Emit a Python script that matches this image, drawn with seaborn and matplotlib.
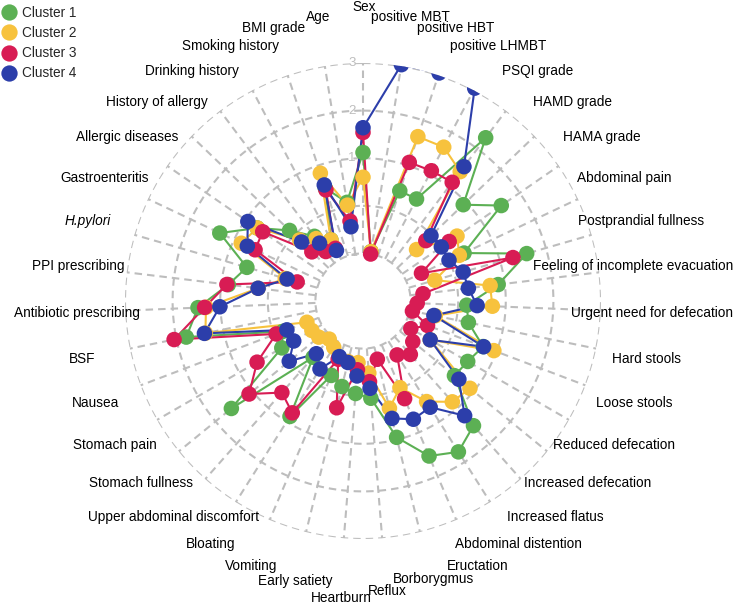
import numpy as np
import pandas as pd
import seaborn as sns
import matplotlib
matplotlib.use("Agg")
import matplotlib.pyplot as plt

# Category labels, clockwise from the top
categories = ['Sex', 'positive MBT', 'positive HBT', 'positive LHMBT', 'PSQI grade',
              'HAMD grade', 'HAMA grade', 'Abdominal pain', 'Postprandial fullness',
              'Feeling of incomplete evacuation', 'Urgent need for defecation',
              'Hard stools', 'Loose stools', 'Reduced defecation', 'Increased defecation',
              'Increased flatus', 'Abdominal distention', 'Eructation', 'Borborygmus',
              'Reflux', 'Heartburn', 'Early satiety', 'Vomiting', 'Bloating',
              'Upper abdominal discomfort', 'Stomach fullness', 'Stomach pain', 'Nausea',
              'BSF', 'Antibiotic prescribing', 'PPI prescribing', 'H.pylori',
              'Gastroenteritis', 'Allergic diseases', 'History of allergy',
              'Drinking history', 'Smoking history', 'BMI grade', 'Age']

cluster1 = [1.12, -0.95, 0.44, 0.42, 2.29, 0.92, 1.53, 0.35, 1.58, 0.86,
            0.18, 0.26, 0.70, 0.54, 0.48, 1.50, 1.75, 1.54, 0.95, 0.05,
            -0.05, -0.15, -0.30, 0.87, -0.42, 1.57, -0.03, -0.20, 1.79, 1.47,
            0.85, 0.54, 1.33, 0.70, 0.14, -0.30, -0.55, 0.50, 0.10]
cluster2 = [0.60, -0.95, 1.64, 1.65, 1.40, -0.44, 0.40, 0.24, -0.43, 0.69,
            0.72, -0.45, 0.94, -0.37, 0.90, 0.83, 0.50, -0.02, 0.32, -0.48,
            -0.70, -0.69, -0.70, -0.85, -0.93, -0.80, -0.76, -0.74, 1.38, 1.30,
            0.22, -0.30, 0.83, 0.70, -0.15, -0.36, -0.55, 0.83, 0.04]
cluster3 = [1.54, -1.00, 1.07, 1.09, 1.12, -0.17, 0.20, -0.64, 1.28, -0.73,
            -0.86, -0.94, -0.55, -0.84, -0.65, -0.50, -0.66, 0.23, -0.74, -0.30,
            -0.55, 0.31, -0.67, 0.78, 0.57, 1.09, 0.57, -0.05, 2.05, 1.33,
            0.88, -0.56, 0.51, 0.56, -0.51, -0.70, -0.75, 0.46, -0.30]
cluster4 = [1.64, 3.03, 3.05, 3.05, 1.53, -0.02, 0.00, 0.00, 0.19, 0.23,
            0.40, -0.48, 0.71, -0.37, 0.60, 1.22, 0.64, 0.70, 0.54, -0.16,
            -0.42, -0.67, -0.73, -0.31, -0.52, 0.00, -0.32, -0.29, 1.40, 1.01,
            0.22, -0.34, 0.69, 0.94, -0.21, -0.48, -0.80, 0.57, -0.42]

cluster_names = ['Cluster 1', 'Cluster 2', 'Cluster 3', 'Cluster 4']
palette = {'Cluster 1': '#5CB054', 'Cluster 2': '#F7C23D',
           'Cluster 3': '#D81C54', 'Cluster 4': '#2C3EAA'}
grid_col = '#BDBDBD'

n = len(categories)
theta = np.arange(n) * 2 * np.pi / n

frames = []
for name, vals in zip(cluster_names, [cluster1, cluster2, cluster3, cluster4]):
    frames.append(pd.DataFrame({'theta': theta, 'value': vals, 'Cluster': name}))
df = pd.concat(frames, ignore_index=True)

# closed polygons for the lines
closed = []
for name, g in df.groupby('Cluster', sort=False):
    first = g.iloc[[0]].copy()
    first['theta'] = 2 * np.pi
    closed.append(pd.concat([g, first]))
df_line = pd.concat(closed, ignore_index=True)

sns.set_style('white')
plt.rcParams['font.family'] = ['Liberation Sans', 'DejaVu Sans']

W, H = 735, 604
fig = plt.figure(figsize=(W / 100, H / 100), dpi=100)
ax = fig.add_axes([125 / W, 65 / H, 476 / W, 476 / H], projection='polar')
ax.set_theta_zero_location('N')
ax.set_theta_direction(-1)

# dashed grid: rings and spokes
dash = (0, (3.6, 2.4))
tt = np.linspace(0, 2 * np.pi, 400)
for r in [-1, 0, 1, 2, 3]:
    ax.plot(tt, np.full_like(tt, r), color=grid_col, lw=1.5, ls=dash, zorder=1)
for t in theta:
    ax.plot([t, t], [-1, 3], color=grid_col, lw=1.5, ls=dash, zorder=1)

sns.lineplot(data=df_line, x='theta', y='value', hue='Cluster', palette=palette,
             sort=False, estimator=None, linewidth=1.5, legend=False, ax=ax, zorder=2)
sns.scatterplot(data=df, x='theta', y='value', hue='Cluster', palette=palette,
                s=125, linewidth=0, ax=ax, zorder=3)

ax.set_ylim(-2, 3)
ax.set_xticks([])
ax.set_yticks([])
ax.grid(False)
ax.spines['polar'].set_visible(False)
ax.set_xlabel('')
ax.set_ylabel('')

for r in [-1, 0, 1, 2, 3]:
    ax.annotate(str(r), xy=(0, r), xytext=(-8, 0), textcoords='offset points',
                ha='center', va='center', color=grid_col, fontsize=9.5, zorder=1.5)

# category labels around the circle
c0 = ax.transData.transform((0, -2))
r3 = ax.transData.transform((0, 3))[1] - c0[1]
nudge = {'Sex': 6, 'Heartburn': -10, 'Reflux': -3, 'Borborygmus': 2}
labels = []
for t, lab in zip(theta, categories):
    px = c0[0] + 1.5 + 1.21 * r3 * np.sin(t)
    py = c0[1] + 1.21 * r3 * np.cos(t) + nudge.get(lab, 0)
    fx, fy = fig.transFigure.inverted().transform((px, py))
    style = 'italic' if lab == 'H.pylori' else 'normal'
    labels.append(fig.text(fx, fy, lab, ha='center', va='center', fontsize=9.8,
                           fontstyle=style, color='black'))
fig.canvas.draw()
for txt in labels:
    bb = txt.get_window_extent()
    shift = 0
    if bb.x1 > W - 2:
        shift = (W - 2) - bb.x1
    elif bb.x0 < 2:
        shift = 2 - bb.x0
    if shift:
        x, y = txt.get_position()
        txt.set_position((x + shift / W, y))

sns.move_legend(ax, 'upper left', bbox_to_anchor=(-0.002, 1 - 2 / H), bbox_transform=fig.transFigure,
                title=None, frameon=False, fontsize=9.8, handlelength=1.0, handletextpad=0.45,
                labelspacing=0.45, borderaxespad=0.1, borderpad=0.2, markerscale=1.05)

fig.savefig('out.png', dpi=100)
